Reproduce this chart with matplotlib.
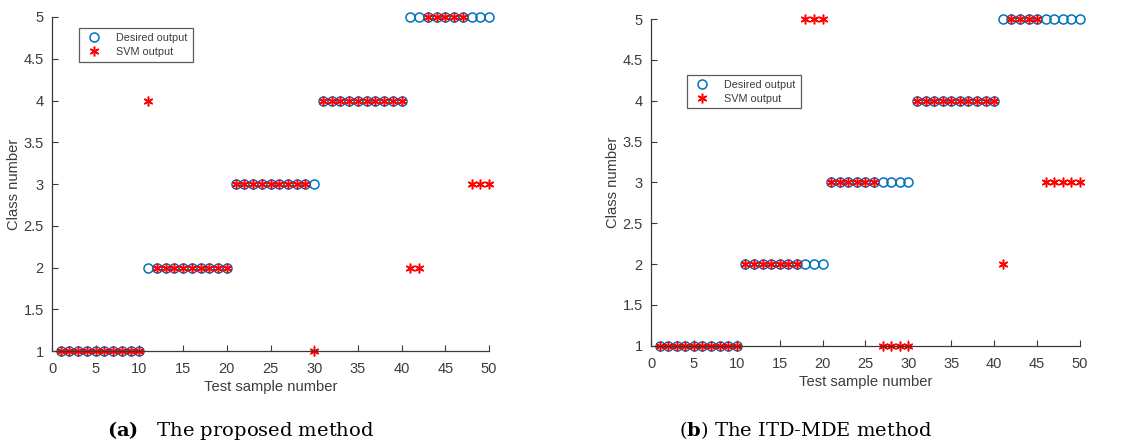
import matplotlib
matplotlib.use("Agg")
import matplotlib.pyplot as plt

# test samples and class labels
samples = list(range(1, 51))
desired = [1] * 10 + [2] * 10 + [3] * 10 + [4] * 10 + [5] * 10
svm_proposed = ([1] * 10 + [4] + [2] * 9 + [3] * 9 + [1] + [4] * 10
                + [2, 2] + [5] * 5 + [3] * 3)
svm_itd_mde = ([1] * 10 + [2] * 7 + [5] * 3 + [3] * 6 + [1] * 4 + [4] * 10
               + [2] + [5] * 4 + [3] * 5)

panels = [
    (svm_proposed, [0.0459, 0.2112, 0.3857, 0.7506], (0.062, 0.967)),
    (svm_itd_mde, [0.5746, 0.2231, 0.3786, 0.7342], (0.084, 0.829)),
]
captions = [(0.212, r"$\mathbf{(a)}$   The proposed method"),
            (0.711, r"($\mathbf{b}$) The ITD-MDE method")]

plt.rcParams["font.family"] = ["Liberation Sans", "DejaVu Sans"]
fig = plt.figure(figsize=(11.33, 4.45), dpi=100)
grey = "#3a3a3a"
txt_c = "#3c3c3c"
asterisk = (6, 2, 0)

for svm, pos, leg_at in panels:
    ax = fig.add_axes(pos)
    ax.plot(samples, desired, "o", ls="none", mfc="none", mec="#0072BD",
            ms=6.5, mew=1.1, label="Desired output", clip_on=False)
    ax.plot(samples, svm, ls="none", marker=asterisk, color="red",
            ms=7, mew=1.1, label="SVM output", clip_on=False)
    ax.set_xlim(0, 50)
    ax.set_ylim(1, 5)
    ax.set_xticks(range(0, 51, 5))
    ax.set_yticks([1, 1.5, 2, 2.5, 3, 3.5, 4, 4.5, 5])
    ax.set_yticklabels(["1", "1.5", "2", "2.5", "3", "3.5", "4", "4.5", "5"])
    for s in ("top", "right"):
        ax.spines[s].set_visible(False)
    for s in ("left", "bottom"):
        ax.spines[s].set_color(grey)
        ax.spines[s].set_linewidth(0.9)
    ax.tick_params(direction="in", length=4, width=0.8, colors=grey,
                   labelsize=10.5, labelcolor=txt_c)
    ax.tick_params(axis="x", pad=8)
    ax.tick_params(axis="y", pad=6)
    ax.set_xlabel("Test sample number", fontsize=10.6, color=txt_c, labelpad=3)
    ax.set_ylabel("Class number", fontsize=10.6, color=txt_c, labelpad=1.5)
    leg = ax.legend(loc="upper left", bbox_to_anchor=leg_at, borderaxespad=0,
                    fontsize=7.8, frameon=True, fancybox=False, handlelength=1.8,
                    borderpad=0.45, labelspacing=0.35, handletextpad=1.2)
    leg.get_frame().set_edgecolor("#333333")
    leg.get_frame().set_linewidth(0.9)
    for t in leg.get_texts():
        t.set_color(txt_c)

for x, txt in captions:
    fig.text(x, 0.033, txt, ha="center", va="center", fontsize=14,
             family=["DejaVu Serif"], math_fontfamily="dejavuserif")

fig.savefig("out.png", dpi=100)
